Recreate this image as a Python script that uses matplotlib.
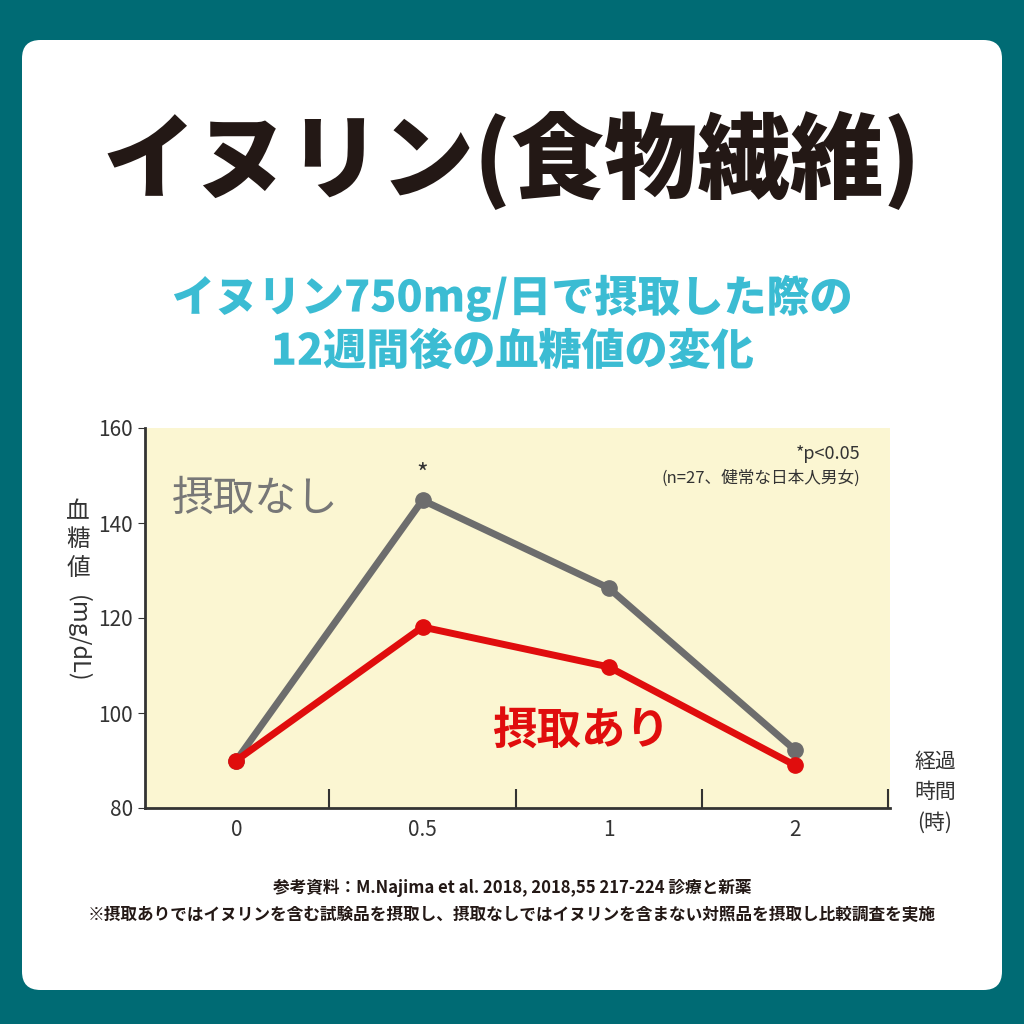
import matplotlib.pyplot as plt
from matplotlib.patches import FancyBboxPatch
import matplotlib.patheffects as pe

plt.rcParams['font.family'] = 'Noto Sans CJK JP'

time_labels = ['0', '0.5', '1', '2']
no_intake = [90, 144.8, 126.3, 92.2]
with_intake = [90, 118.1, 109.7, 89]
y_ticks = [80, 100, 120, 140, 160]

W = H = 1024
fig = plt.figure(figsize=(10.24, 10.24), dpi=100)
fig.patch.set_facecolor('#006b74')
card = FancyBboxPatch((22 / W, 1 - 990 / H), 980 / W, 950 / H,
                      boxstyle='round,pad=0,rounding_size=0.018',
                      transform=fig.transFigure, facecolor='white', edgecolor='none',
                      zorder=-10)
fig.patches.append(card)

fig.text(0.5, 1 - 160 / H, 'イヌリン(食物繊維)', ha='center', va='center',
         fontsize=67, fontweight='black', color='#231815')
outline = [pe.withStroke(linewidth=7, foreground='white')]
for txt, y in [('イヌリン750mg/日で摂取した際の', 298), ('12週間後の血糖値の変化', 352)]:
    fig.text(0.5, 1 - y / H, txt, ha='center', va='center', fontsize=31,
             fontweight='black', color='#3bbcd3', path_effects=outline)

ax = fig.add_axes([145 / W, 1 - 808 / H, 745 / W, 380 / H])
ax.set_facecolor('#fbf6d2')
x = list(range(len(time_labels)))
ax.plot(x, no_intake, color='#6d6d6d', lw=5, marker='o', ms=11, zorder=3)
ax.plot(x, with_intake, color='#e00d0d', lw=5, marker='o', ms=11, zorder=4)
ax.set_xlim(-0.49, 3.51)
ax.set_ylim(80, 160)
ax.set_yticks(y_ticks)
ax.set_xticks(x)
ax.set_xticklabels(time_labels)
ax.set_xticks([0.5, 1.5, 2.5, 3.5], minor=True)
ax.tick_params(axis='x', which='major', length=0, pad=8, labelsize=15, colors='#333333')
ax.tick_params(axis='x', which='minor', direction='in', length=14, width=1.5, color='#333333')
ax.tick_params(axis='y', length=5, direction='out', labelsize=15, colors='#333333')
for s in ['top', 'right']:
    ax.spines[s].set_visible(False)
for s in ['left', 'bottom']:
    ax.spines[s].set_color('#333333')
    ax.spines[s].set_linewidth(2)

ax.text(1.0, 147.5, '*', ha='center', va='bottom', fontsize=18, color='#333333')
ax.text(0.55, 145, '摂取なし', ha='right', va='center', fontsize=30, color='#777777')
ax.text(1.85, 96, '摂取あり', ha='center', va='center', fontsize=32,
        fontweight='bold', color='#e00d0d')
ax.text(3.35, 154.5, '*p<0.05', ha='right', va='center', fontsize=13, color='#333333')
ax.text(3.35, 149.5, '(n=27、健常な日本人男女)', ha='right', va='center', fontsize=12, color='#333333')

fig.text(935 / W, 1 - 792 / H, '経過\n時間\n(時)', ha='center', va='center',
         fontsize=15, color='#333333', linespacing=1.5)
fig.text(78 / W, 1 - 540 / H, '血\n糖\n値', ha='center', va='center',
         fontsize=17, color='#333333', linespacing=1.3)
fig.text(78 / W, 1 - 595 / H, '(mg/dL)', ha='center', va='top', rotation=-90,
         fontsize=17, color='#333333')

fig.text(0.5, 1 - 888 / H, '参考資料：M.Najima et al. 2018, 2018,55 217-224 診療と新薬',
         ha='center', va='center', fontsize=12, fontweight='bold', color='#231815')
fig.text(0.5, 1 - 915 / H,
         '※摂取ありではイヌリンを含む試験品を摂取し、摂取なしではイヌリンを含まない対照品を摂取し比較調査を実施',
         ha='center', va='center', fontsize=12, fontweight='bold', color='#231815')

fig.savefig('out.png', dpi=100, facecolor=fig.get_facecolor())
